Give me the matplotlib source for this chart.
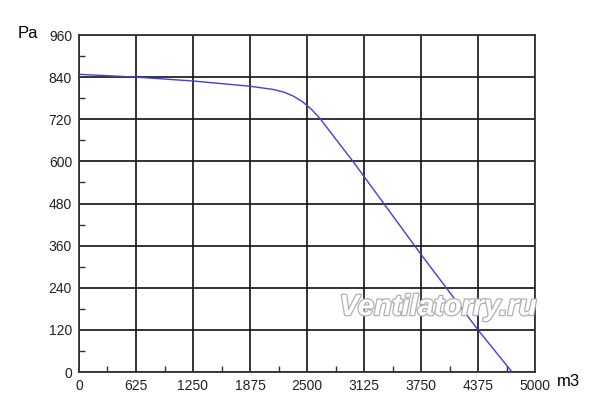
import matplotlib.pyplot as plt
import matplotlib.patheffects as pe
from matplotlib.ticker import MultipleLocator

# Curva del ventilador (caudal m3 / presion Pa)
caudal = [0, 625, 1250, 1875, 2127, 2250, 2350, 2450, 2550, 2643, 2820, 3004, 3125, 3750, 4375, 4748]
presion = [848, 840, 829, 814, 805, 797, 786, 770, 748, 722, 662, 600, 557, 335, 120, 0]

x_ticks = [0, 625, 1250, 1875, 2500, 3125, 3750, 4375, 5000]
y_ticks = [0, 120, 240, 360, 480, 600, 720, 840, 960]

plt.rcParams['font.family'] = ['Liberation Sans', 'DejaVu Sans']

fig = plt.figure(figsize=(6, 4.12), dpi=100)
ax = fig.add_axes([79 / 600, 40 / 412, 456 / 600, 337 / 412])

ax.plot(caudal, presion, color='#4040d8', lw=1.0, zorder=3)

ax.set_xlim(0, 5000)
ax.set_ylim(0, 960)
ax.set_xticks(x_ticks)
ax.set_yticks(y_ticks)
ax.xaxis.set_minor_locator(MultipleLocator(312.5))
ax.yaxis.set_minor_locator(MultipleLocator(60))
ax.tick_params(which='major', length=0, labelsize=10, pad=5, colors='#222222')
ax.tick_params(which='minor', direction='in', length=4, width=1, color='#333333')
ax.grid(True, which='major', color='#111111', lw=1.2)
for s in ax.spines.values():
    s.set_color('#333333')
    s.set_linewidth(1.3)

fig.text(18 / 600, 1 - 33 / 412, 'Pa', fontsize=12, ha='left', va='center')
fig.text(557 / 600, 1 - 382 / 412, 'm3', fontsize=12, ha='left', va='center')

fig.text(438 / 600, 1 - 315 / 412, 'Ventilatorry.ru', fontsize=21, style='italic',
         weight='bold', ha='center', va='baseline', color='white', zorder=5,
         path_effects=[pe.withStroke(linewidth=1.8, foreground='#b0b0b0')])

fig.savefig('out.png', dpi=100)
